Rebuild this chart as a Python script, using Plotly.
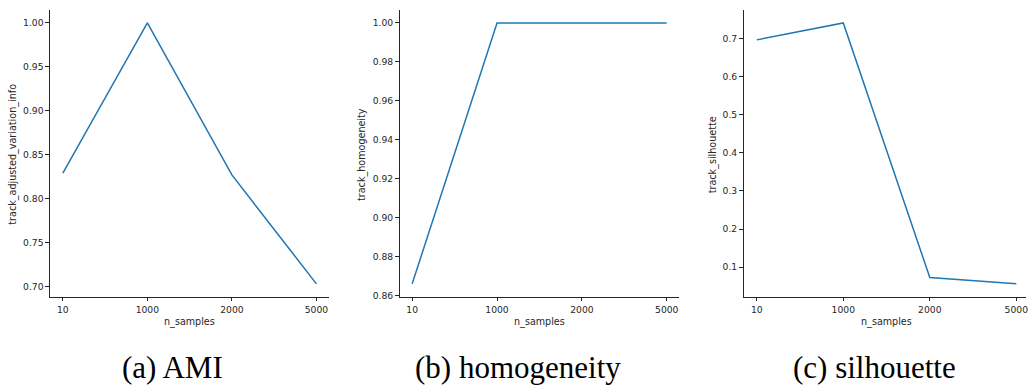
import plotly.graph_objects as go

# Clustering metrics versus number of samples
n_samples = ["10", "1000", "2000", "5000"]
ami_values = [0.829, 1.0, 0.827, 0.703]
homogeneity_values = [0.866, 1.0, 1.0, 1.0]
silhouette_values = [0.697, 0.7415, 0.0725, 0.056]

y_titles = ["track_adjusted_variation_info", "track_homogeneity", "track_silhouette"]
captions = ["(a) AMI", "(b) homogeneity", "(c) silhouette"]
series = [ami_values, homogeneity_values, silhouette_values]

W, H = 1028, 387
# panel geometry in pixels: (left, right)
panels_px = [(50, 330), (400.3, 680.7), (745, 1028)]
x_ranges = [[-0.153, 3.153], [-0.149, 3.149], [-0.153, 3.112]]
tick_fmt = [(0.05, ".2f"), (0.02, ".2f"), (0.1, ".1f")]
ytitle_x_px = [13.3, 363.3, 714.3]
xtitle_x_px = [190, 540.5, 888]
caption_x_px = [173, 519, 876]
plot_top, plot_bottom = 10, 300

ink = "#262626"
tick_font = dict(family="DejaVu Sans", size=9.2, color=ink)
title_font = dict(family="DejaVu Sans", size=9.6, color=ink)
caption_font = dict(family="'Liberation Serif', 'DejaVu Serif', serif", size=31, color="black")

fig = go.Figure()
layout = dict(
    width=W, height=H,
    margin=dict(l=0, r=0, t=0, b=0),
    paper_bgcolor="white", plot_bgcolor="white",
    showlegend=False,
    annotations=[],
)

for i, vals in enumerate(series):
    sfx = "" if i == 0 else str(i + 1)
    fig.add_trace(go.Scatter(
        x=n_samples, y=vals, mode="lines",
        line=dict(color="#1f77b4", width=1.5),
        xaxis="x" + sfx, yaxis="y" + sfx,
    ))
    lo, hi = min(vals), max(vals)
    pad = 0.05 * (hi - lo)
    left, right = panels_px[i]
    dtick, fmt = tick_fmt[i]
    axis_common = dict(
        showline=True, linecolor=ink, linewidth=1,
        ticks="outside", ticklen=3.5, tickwidth=0.8, tickcolor=ink,
        showgrid=False, zeroline=False, tickfont=tick_font, mirror=False,
    )
    layout["xaxis" + sfx] = dict(
        domain=[left / W, min(right / W, 1.0)],
        anchor="y" + sfx, type="category",
        range=x_ranges[i], ticklabelstandoff=1, **axis_common,
    )
    layout["yaxis" + sfx] = dict(
        domain=[1 - plot_bottom / H, 1 - plot_top / H],
        anchor="x" + sfx, range=[lo - pad, hi + pad],
        dtick=dtick, tickformat=fmt, **axis_common,
    )
    # x-axis title
    layout["annotations"].append(dict(
        text="n_samples", xref="paper", yref="paper",
        x=xtitle_x_px[i] / W, y=1 - 325 / H,
        xanchor="center", yanchor="middle",
        showarrow=False, font=title_font,
    ))
    # y-axis title
    layout["annotations"].append(dict(
        text=y_titles[i], xref="paper", yref="paper",
        x=ytitle_x_px[i] / W, y=1 - 156 / H, textangle=-90,
        xanchor="center", yanchor="middle", showarrow=False,
        font=title_font,
    ))
    # subfigure caption
    layout["annotations"].append(dict(
        text=captions[i], xref="paper", yref="paper",
        x=caption_x_px[i] / W, y=1 - 371.5 / H,
        xanchor="center", yanchor="middle", showarrow=False,
        font=caption_font,
    ))

fig.update_layout(**layout)
fig.write_html("out.html")
